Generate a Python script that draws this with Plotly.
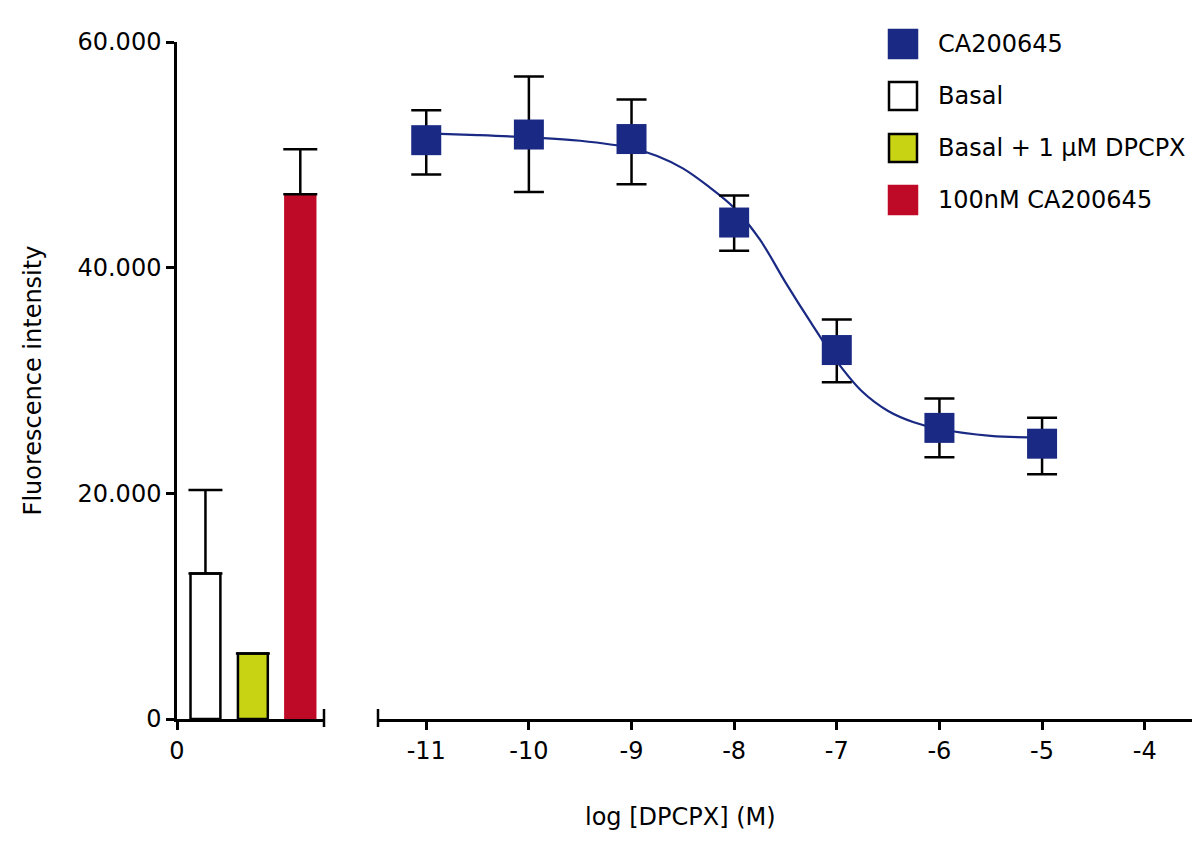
import plotly.graph_objects as go

# left panel: control bars
bar_labels = ["Basal", "Basal + 1 µM DPCPX", "100nM CA200645"]
bar_values = [12900, 5800, 46500]
bar_err_up = [7400, 0, 4000]
bar_colors = ["#ffffff", "#c8d314", "#be0a26"]
bar_lines = ["#000000", "#000000", "#be0a26"]

# right panel: CA200645 displacement by DPCPX
log_dpcpx = [-11, -10, -9, -8, -7, -6, -5]
ca_values = [51300, 51800, 51400, 44000, 32700, 25800, 24400]
ca_err_up = [2650, 5150, 3500, 2400, 2700, 2600, 2300]
ca_err_down = [3050, 5100, 4000, 2500, 2850, 2600, 2700]

# fitted curve
fit_x = [-11, -10.5, -10, -9.5, -9, -8.75, -8.5, -8.25, -8, -7.75, -7.5,
         -7.25, -7, -6.75, -6.5, -6.25, -6, -5.5, -5]
fit_y = [51900, 51750, 51550, 51250, 50600, 49900, 48800, 47200, 45300,
         42500, 38700, 35100, 31700, 29000, 27300, 26300, 25700, 25100, 24950]

x_ticks = [-11, -10, -9, -8, -7, -6, -5, -4]
y_ticks = [0, 20000, 40000, 60000]

navy = "#1a2a84"
FONT = "DejaVu Sans"

fig = go.Figure()

bar_pos = [i + 1 for i in range(len(bar_labels))]
fig.add_trace(go.Bar(x=bar_pos, y=bar_values, width=0.63,
                     marker=dict(color=bar_colors, line=dict(color=bar_lines, width=2.5)),
                     error_y=dict(type='data', symmetric=False, array=bar_err_up,
                                  arrayminus=[0] * len(bar_values),
                                  color='black', thickness=2.5, width=17),
                     xaxis='x', yaxis='y', showlegend=False))

fig.add_trace(go.Scatter(x=fit_x, y=fit_y, mode='lines',
                         line=dict(color=navy, width=2.2, shape='spline', smoothing=1.0),
                         xaxis='x2', yaxis='y', showlegend=False, hoverinfo='skip'))

fig.add_trace(go.Scatter(x=log_dpcpx, y=ca_values, mode='markers',
                         marker=dict(symbol='square', size=30, color=navy, line=dict(width=0)),
                         error_y=dict(type='data', symmetric=False, array=ca_err_up,
                                      arrayminus=ca_err_down, color='black',
                                      thickness=2.5, width=15),
                         xaxis='x2', yaxis='y', name='CA200645', showlegend=False))

# page has an 8px body margin, so the figure is drawn 8px in from the corner
OFF = 8
W, H = 1200 - OFF, 861 - OFF
ML, MT = 177 - OFF, 42 - OFF
PW, PH = 1018, 677


def px(xp):
    # page pixel -> paper x
    return (xp - OFF - ML) / PW


def py(yp):
    # page pixel -> paper y
    return (MT + PH - (yp - OFF)) / PH


axis_font = dict(family=FONT, size=24, color='black')

fig.update_layout(
    width=W, height=H,
    margin=dict(l=ML, r=W - ML - PW, t=MT, b=H - MT - PH),
    plot_bgcolor='white', paper_bgcolor='white',
    separators=',.',
    font=dict(family=FONT, size=24, color='black'),
    xaxis=dict(domain=[0, px(324)], range=[0.4, 3.5],
               tickvals=[0.4], ticktext=['0'],
               showline=True, linecolor='black', linewidth=2.5,
               ticks='outside', ticklen=8, tickwidth=2.5, tickcolor='black',
               showgrid=False, zeroline=False, tickfont=axis_font, anchor='y'),
    xaxis2=dict(domain=[px(378), 1], range=[-11.47, -3.51],
                tickvals=x_ticks, ticktext=[str(t) for t in x_ticks],
                showline=True, linecolor='black', linewidth=2.5,
                ticks='outside', ticklen=8, tickwidth=2.5, tickcolor='black',
                showgrid=False, zeroline=False, tickfont=axis_font, anchor='y'),
    yaxis=dict(range=[0, 60000], tickvals=y_ticks, tickformat=',d',
               showline=True, linecolor='black', linewidth=2.5,
               ticks='outside', ticklen=8, tickwidth=2.5, tickcolor='black',
               showgrid=False, zeroline=False, tickfont=axis_font,
               title=dict(text='Fluorescence intensity', standoff=30,
                          font=dict(family=FONT, size=24))),
    showlegend=False,
)

# end ticks crossing the broken x axis
shapes = [
    dict(type='line', xref='x domain', yref='paper', x0=1, x1=1,
         y0=py(709), y1=py(727), line=dict(color='black', width=2.5)),
    dict(type='line', xref='x2 domain', yref='paper', x0=0, x1=0,
         y0=py(709), y1=py(727), line=dict(color='black', width=2.5)),
]

# legend drawn by hand so the swatches are as big as in the figure
legend_labels = ["CA200645"] + bar_labels
legend_fill = [navy] + bar_colors
legend_line = [navy, "#000000", "#000000", "#be0a26"]
annotations = []
for i, (lab, fc, lc) in enumerate(zip(legend_labels, legend_fill, legend_line)):
    cy = 44 + 52 * i
    shapes.append(dict(type='rect', xref='paper', yref='paper',
                       x0=px(889), x1=px(917), y0=py(cy + 14), y1=py(cy - 14),
                       fillcolor=fc, line=dict(color=lc, width=2.5)))
    annotations.append(dict(text=lab, xref='paper', yref='paper', x=px(936), y=py(cy),
                            xanchor='left', yanchor='middle', showarrow=False,
                            font=dict(family=FONT, size=24, color='black')))

annotations.append(dict(text='log [DPCPX] (M)', xref='paper', yref='paper',
                        x=px(680), y=py(817), xanchor='center', yanchor='middle',
                        showarrow=False, font=dict(family=FONT, size=24, color='black')))

fig.update_layout(shapes=shapes, annotations=annotations)

fig.write_html("out.html")
